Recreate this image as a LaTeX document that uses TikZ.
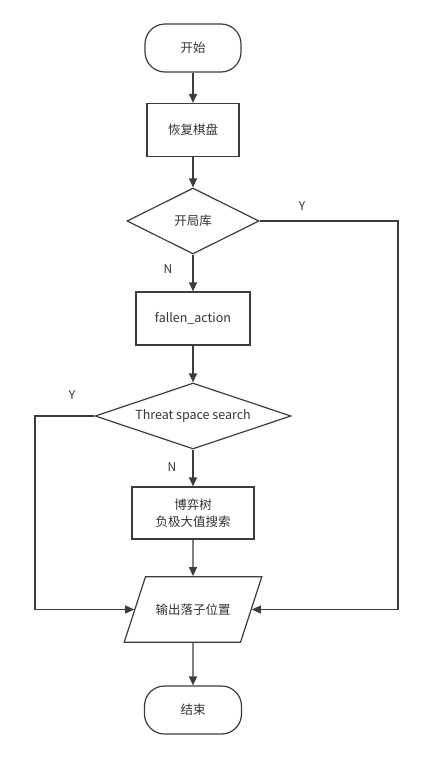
\documentclass[tikz,border=0pt]{standalone}
\usepackage{fontspec}
\setmainfont{Noto Sans CJK SC}
\usetikzlibrary{shapes.geometric,arrows.meta}

\definecolor{linegray}{HTML}{3C3C3C}
\definecolor{textgray}{HTML}{333333}

\tikzset{
  flow/.style={draw=linegray, line width=1.2pt, text=textgray, fill=white,
    font=\fontsize{12.5}{17}\selectfont, inner sep=0pt, align=center},
  term/.style={flow, rounded corners=20pt, minimum width=96pt, minimum height=48pt},
  proc/.style={flow, minimum height=53pt},
  decide/.style={flow, diamond, minimum height=66pt},
  io/.style={flow, trapezium, trapezium left angle=72, trapezium right angle=108,
    inner xsep=10pt, inner ysep=27pt},
  link/.style={draw=linegray, line width=1.2pt, -{Triangle[length=9pt,width=8pt]}},
  yn/.style={text=textgray, font=\fontsize{12}{14}\selectfont},
}

\begin{document}
\begin{tikzpicture}[x=1pt, y=-1pt]
  % Drawing parameters
  \pgfmathsetmacro{\midx}{193}
  \pgfmathsetmacro{\leftx}{35}
  \pgfmathsetmacro{\rightx}{398}

  \useasboundingbox (0,0) rectangle (423,758);

  \node[term] (start) at (\midx, 48) {开始};
  \node[proc, minimum width=92pt] (restore) at (\midx, 130) {恢复棋盘};
  \node[decide, aspect=2, minimum width=132pt] (book) at (\midx, 221) {开局库};
  \node[proc, minimum width=114pt] (fallen) at (\midx, 318.5) {fallen\_action};
  \node[decide, aspect=3, minimum width=196pt] (threat) at (\midx, 416) {Threat space search};
  \node[proc, minimum width=122pt, minimum height=52pt] (tree) at (\midx, 513) {博弈树\\负极大值搜索};
  \node[io] (output) at (\midx, 609.5) {输出落子位置};
  \node[term, minimum width=97pt] (stop) at (\midx, 710) {结束};

  \coordinate (rbend) at (\rightx, 221);
  \coordinate (lbend) at (\leftx, 416);

  \draw[link] (start) -- (restore);
  \draw[link] (restore) -- (book);
  \draw[link] (book) -- (fallen);
  \draw[link] (fallen) -- (threat);
  \draw[link] (threat) -- (tree);
  \draw[link] (tree) -- (output);
  \draw[link] (output) -- (stop);

  \draw[link] (book.east) -- (rbend) |- (output.east);
  \draw[link] (threat.west) -- (lbend) |- (output.west);

  \node[yn] (bookyes) at (302, 206) {Y};
  \node[yn] (bookno) at (168, 269) {N};
  \node[yn] (threatyes) at (72, 395) {Y};
  \node[yn] (threatno) at (172, 467) {N};

\end{tikzpicture}
\end{document}
